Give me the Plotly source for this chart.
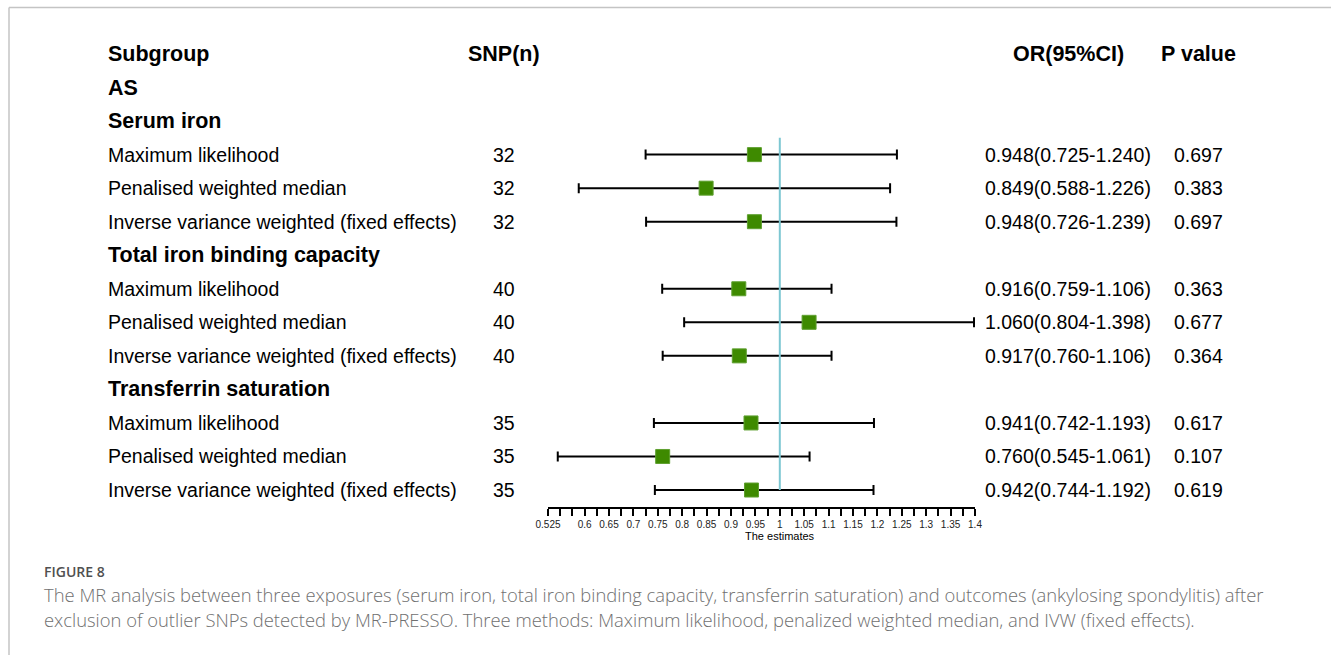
import plotly.graph_objects as go

W, H = 1331, 655

# ---------------- data ----------------
outcome = "AS"
groups = ["Serum iron", "Total iron binding capacity", "Transferrin saturation"]
methods = ["Maximum likelihood", "Penalised weighted median",
           "Inverse variance weighted (fixed effects)"]
snp_n = [32, 32, 32, 40, 40, 40, 35, 35, 35]
or_est = [0.948, 0.849, 0.948, 0.916, 1.060, 0.917, 0.941, 0.760, 0.942]
ci_lo = [0.725, 0.588, 0.726, 0.759, 0.804, 0.760, 0.742, 0.545, 0.744]
ci_hi = [1.240, 1.226, 1.239, 1.106, 1.398, 1.106, 1.193, 1.061, 1.192]
p_val = [0.697, 0.383, 0.697, 0.363, 0.677, 0.364, 0.617, 0.107, 0.619]

tick_vals = [0.525, 0.55, 0.575, 0.6, 0.625, 0.65, 0.675, 0.7, 0.725, 0.75,
             0.775, 0.8, 0.825, 0.85, 0.875, 0.9, 0.925, 0.95, 0.975, 1.0,
             1.025, 1.05, 1.075, 1.1, 1.125, 1.15, 1.175, 1.2, 1.225, 1.25,
             1.275, 1.3, 1.325, 1.35, 1.375, 1.4]
tick_text = ["0.525", "", "", "0.6", "", "0.65", "", "0.7", "", "0.75",
             "", "0.8", "", "0.85", "", "0.9", "", "0.95", "", "1",
             "", "1.05", "", "1.1", "", "1.15", "", "1.2", "", "1.25",
             "", "1.3", "", "1.35", "", "1.4"]

caption_label = "FIGURE 8"
caption_lines = [
    "The MR analysis between three exposures (serum iron, total iron binding capacity, transferrin saturation) and outcomes (ankylosing spondylitis) after",
    "exclusion of outlier SNPs detected by MR-PRESSO. Three methods: Maximum likelihood, penalized weighted median, and IVW (fixed effects).",
]

# ---------------- layout helpers ----------------
ROW0_PX = 54.0          # pixel y of header row
ROW_STEP = 33.54        # pixel spacing of rows
AXIS_PX = 507.0         # pixel y of x-axis line
X_LEFT_PX, X_RIGHT_PX = 548.0, 975.0

def px(x):
    return x / W

def py(y):
    return 1 - y / H

row_top = -ROW0_PX / ROW_STEP
row_bottom = (AXIS_PX - ROW0_PX) / ROW_STEP

rows_y = []
for g in range(len(groups)):
    for m in range(len(methods)):
        rows_y.append(3 + 4 * g + m)

FONT = "Liberation Sans, Arial, sans-serif"
GREEN = "#3e8a00"

fig = go.Figure()

fig.add_trace(go.Scatter(
    x=or_est, y=rows_y, mode="markers",
    marker=dict(symbol="square", size=14, color=GREEN,
                line=dict(color="#5fa030", width=1)),
    error_x=dict(type="data", symmetric=False,
                 array=[h - o for h, o in zip(ci_hi, or_est)],
                 arrayminus=[o - l for o, l in zip(or_est, ci_lo)],
                 color="black", thickness=2, width=5),
    cliponaxis=False, showlegend=False, hoverinfo="skip",
))

ann = []
def txt(x_px, row, text, anchor="left", bold=False, size=19.5):
    ann.append(dict(x=px(x_px), xref="paper", y=row, yref="y",
                    text=f"<b>{text}</b>" if bold else text,
                    showarrow=False, xanchor=anchor, yanchor="middle",
                    font=dict(family=FONT, size=size, color="black")))

SUB_X, SNP_X, OR_X, P_X = 106, 504, 1068, 1198
txt(SUB_X, 0, "Subgroup", bold=True, size=21.5)
txt(SNP_X, 0, "SNP(n)", anchor="center", bold=True, size=21.5)
txt(OR_X, 0, "OR(95%CI)", anchor="center", bold=True, size=21.5)
txt(P_X, 0, "P value", anchor="center", bold=True, size=21.5)
txt(SUB_X, 1, outcome, bold=True, size=21.5)
for g, gname in enumerate(groups):
    txt(SUB_X, 2 + 4 * g, gname, bold=True, size=21.5)
i = 0
for g in range(len(groups)):
    for m, mname in enumerate(methods):
        r = rows_y[i]
        txt(SUB_X, r, mname)
        txt(SNP_X, r, str(snp_n[i]), anchor="center")
        txt(OR_X, r, f"{or_est[i]:.3f}({ci_lo[i]:.3f}-{ci_hi[i]:.3f})", anchor="center")
        txt(P_X, r, f"{p_val[i]:.3f}", anchor="center")
        i += 1

# caption
CAP_FONT = "Open Sans, Noto Sans, sans-serif"
ann.append(dict(x=px(42), xref="paper", y=py(571), yref="paper", text=caption_label,
                showarrow=False, xanchor="left", yanchor="middle",
                font=dict(family=CAP_FONT, size=14, color="#505050", weight=600)))
for k, line in enumerate(caption_lines):
    ann.append(dict(x=px(42), xref="paper", y=py(594 + 25 * k), yref="paper", text=line,
                    showarrow=False, xanchor="left", yanchor="middle",
                    font=dict(family=CAP_FONT, size=18.4, color="#707070", weight=300)))

# axis title
ann.append(dict(x=1.0, xref="x", y=py(536), yref="paper", text="The estimates",
                showarrow=False, xanchor="center", yanchor="middle",
                font=dict(family=FONT, size=11, color="black")))

shapes = [
    dict(type="line", xref="x", yref="y", x0=1, x1=1, y0=2.5, y1=13.0,
         line=dict(color="#7dc7d2", width=2), layer="above"),
    dict(type="line", xref="paper", yref="paper", x0=px(9), x1=1, y0=py(7.5), y1=py(7.5),
         line=dict(color="#c4c4c4", width=1.5)),
    dict(type="line", xref="paper", yref="paper", x0=px(9), x1=px(9), y0=py(7.5), y1=0,
         line=dict(color="#c4c4c4", width=1.5)),
]

fig.update_layout(
    width=W, height=H, margin=dict(l=0, r=0, t=0, b=0, pad=0, autoexpand=False),
    paper_bgcolor="white", plot_bgcolor="white",
    annotations=ann, shapes=shapes,
    xaxis=dict(domain=[px(X_LEFT_PX), px(X_RIGHT_PX)], range=[0.525, 1.4],
               automargin=False,
               showgrid=False, zeroline=False, showline=True, linecolor="black",
               linewidth=2, ticks="outside", ticklen=7, tickwidth=2, tickcolor="black",
               tickvals=tick_vals, ticktext=tick_text,
               tickfont=dict(family=FONT, size=10, color="#222222")),
    yaxis=dict(domain=[py(AXIS_PX), 1], range=[row_bottom, row_top],
               automargin=False,
               showgrid=False, zeroline=False, showline=False, showticklabels=False,
               ticks=""),
)

fig.write_html("out.html")
